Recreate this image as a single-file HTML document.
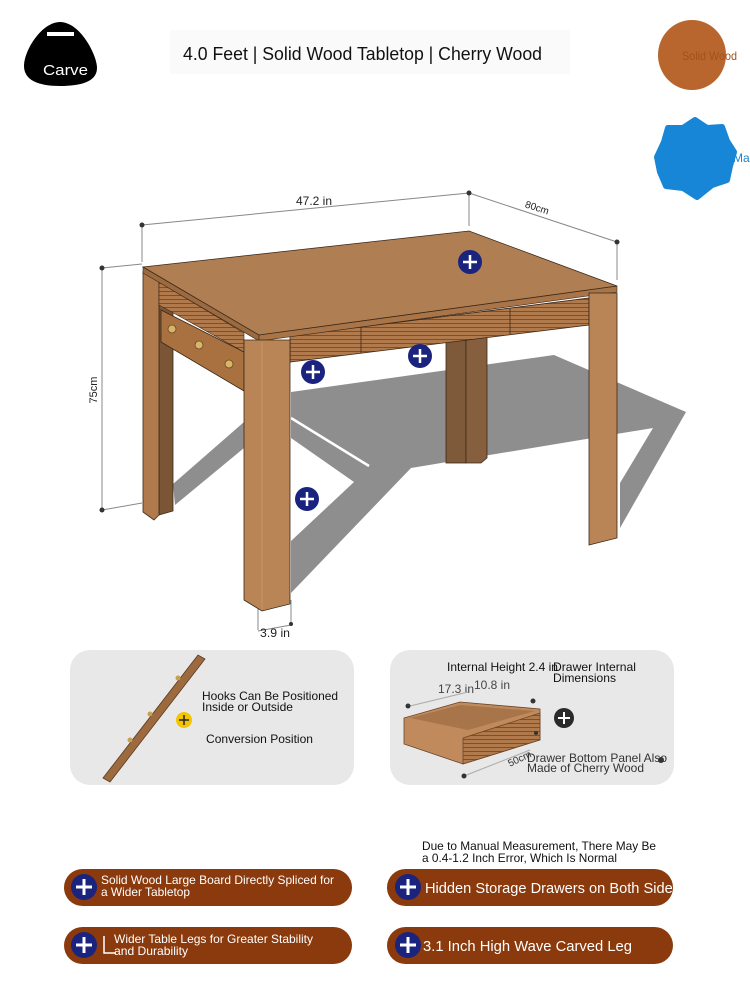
<!DOCTYPE html>
<html><head><meta charset="utf-8"><style>
html,body{margin:0;padding:0;background:#fff;}
svg{display:block;}
text{font-family:"Liberation Sans",sans-serif;}
</style></head><body>
<svg width="750" height="1000" viewBox="0 0 750 1000" xmlns="http://www.w3.org/2000/svg">
<defs>
<pattern id="rib" width="6" height="4" patternUnits="userSpaceOnUse">
<rect width="6" height="4" fill="#b07a4c"/><rect y="3" width="6" height="1" fill="#7a5030"/>
</pattern>
<clipPath id="pc"><rect x="387" y="869" width="286" height="37" rx="18.5"/></clipPath>
</defs>
<!-- header -->
<path d="M60,22 C80,22 97,55 97,68 C97,82 80,86 60,86 C38,86 24,80 24,66 C24,50 42,22 60,22Z" fill="#000"/>
<rect x="47" y="32" width="27" height="4" fill="#fff"/>
<text x="43" y="75" font-size="15" fill="#fff" textLength="45" lengthAdjust="spacingAndGlyphs">Carve</text>
<rect x="170" y="30" width="400" height="44" fill="#fafafa"/>
<text x="183" y="60" font-size="18" fill="#111" textLength="359" lengthAdjust="spacingAndGlyphs">4.0 Feet | Solid Wood Tabletop | Cherry Wood</text>
<ellipse cx="692" cy="55" rx="34" ry="35" fill="#b8662d"/>
<text x="682" y="60" font-size="12" fill="#a2521d" textLength="55" lengthAdjust="spacingAndGlyphs">Solid Wood</text>
<path d="M695,120 L707,128 L722,127 L727,141 L734,152 L730,166 L727,180 L712,185 L697,197 L683,188 L666,186 L660,172 L657,157 L664,142 L668,128 L683,128Z" fill="#1786d6" stroke="#1786d6" stroke-width="6" stroke-linejoin="round"/>
<text x="733" y="162" font-size="12" fill="#1786d6">Ma</text>

<!-- dimension lines -->
<g stroke="#888" stroke-width="1" fill="none">
<line x1="142" y1="225" x2="469" y2="193"/>
<line x1="469" y1="193" x2="617" y2="242"/>
<line x1="142" y1="225" x2="142" y2="262"/>
<line x1="469" y1="193" x2="469" y2="226"/>
<line x1="617" y1="242" x2="617" y2="280"/>
<line x1="102" y1="268" x2="102" y2="510"/>
<line x1="102" y1="268" x2="142" y2="264"/>
<line x1="102" y1="510" x2="142" y2="503"/>
<line x1="258" y1="600" x2="258" y2="630"/>
<line x1="291" y1="600" x2="291" y2="624"/>
<line x1="258" y1="631" x2="291" y2="625"/>
</g>
<g fill="#333">
<circle cx="142" cy="225" r="2.5"/><circle cx="469" cy="193" r="2.5"/><circle cx="617" cy="242" r="2.5"/>
<circle cx="102" cy="268" r="2.5"/><circle cx="102" cy="510" r="2.5"/><circle cx="291" cy="624" r="2"/>
</g>
<text x="296" y="205" font-size="12" fill="#222" textLength="36" lengthAdjust="spacingAndGlyphs">47.2 in</text>
<text x="537" y="211" font-size="10" text-anchor="middle" fill="#222" transform="rotate(18 537 208)">80cm</text>
<text x="97" y="390" font-size="11" text-anchor="middle" fill="#222" transform="rotate(-90 97 390)">75cm</text>
<text x="260" y="637" font-size="12" fill="#222" textLength="30" lengthAdjust="spacingAndGlyphs">3.9 in</text>

<!-- shadow -->
<polygon points="291,392 554,355 686,412 620,528 620,483 653,428 411,468 291,593 291,541 354,482 291,438" fill="#8e8e8e"/>
<line x1="291" y1="418" x2="369" y2="466" stroke="#fff" stroke-width="2.5"/>
<polygon points="244,422 244,448 175,505 173,484" fill="#8e8e8e"/>

<!-- back middle leg -->
<rect x="446" y="330" width="20" height="133" fill="#7e5a3a" stroke="#3a2818" stroke-width="0.8"/>
<polygon points="466,330 487,330 487,458 481,463 466,463" fill="#86603e" stroke="#3a2818" stroke-width="0.8"/>
<!-- left back leg -->
<polygon points="159,280 173,290 173,511 159,515" fill="#7a5637" stroke="#3a2818" stroke-width="0.8"/>
<polygon points="143,272 159,280 159,515 154,520 143,512" fill="#b07a4c" stroke="#3a2818" stroke-width="0.8"/>
<!-- hook rail -->
<polygon points="161,310 244,352 244,391 161,342" fill="#a8713f" stroke="#3a2818" stroke-width="0.8"/>
<g fill="#d8b56a" stroke="#6a4a20" stroke-width="0.8">
<circle cx="172" cy="329" r="4"/><circle cx="199" cy="345" r="4"/><circle cx="229" cy="364" r="4"/>
</g>
<!-- side apron -->
<polygon points="159,282 244,333 244,352 159,305" fill="url(#rib)" stroke="#3a2818" stroke-width="0.6"/>
<!-- front apron drawers -->
<polygon points="290,336 589,298 589,325 290,362" fill="url(#rib)" stroke="#3a2818" stroke-width="0.8"/>
<line x1="361" y1="327" x2="361" y2="353" stroke="#3a2818" stroke-width="0.8"/>
<line x1="510" y1="308" x2="510" y2="334" stroke="#3a2818" stroke-width="0.8"/>
<!-- tabletop -->
<polygon points="143,267 259,335 259,341 143,273" fill="#9c6a40" stroke="#3a2818" stroke-width="0.6"/>
<polygon points="259,335 617,286 617,292 259,341" fill="#a87448" stroke="#3a2818" stroke-width="0.6"/>
<polygon points="143,267 469,231 617,286 259,335" fill="#b07e53" stroke="#3a2818" stroke-width="0.8"/>
<!-- front-left leg -->
<polygon points="244,340 290,340 290,604 262,611 244,600" fill="#b98456" stroke="#3a2818" stroke-width="0.8"/>
<line x1="262" y1="342" x2="262" y2="610" stroke="#c9956a" stroke-width="1"/>
<!-- right leg -->
<polygon points="589,293 617,293 617,538 589,545" fill="#b98456" stroke="#3a2818" stroke-width="0.8"/>

<!-- plus markers -->
<g>
<circle cx="470" cy="262" r="12" fill="#1a237e"/><circle cx="313" cy="372" r="12" fill="#1a237e"/>
<circle cx="420" cy="356" r="12" fill="#1a237e"/><circle cx="307" cy="499" r="12" fill="#1a237e"/>
</g>
<g stroke="#fff" stroke-width="2.5">
<path d="M463,262h14M470,255v14"/><path d="M306,372h14M313,365v14"/>
<path d="M413,356h14M420,349v14"/><path d="M300,499h14M307,492v14"/>
</g>

<!-- lower panels -->
<rect x="70" y="650" width="284" height="135" rx="20" fill="#e8e8e8"/>
<rect x="390" y="650" width="284" height="135" rx="20" fill="#e8e8e8"/>
<polygon points="103,778 198,655 205,659 110,782" fill="#9c6a3e" stroke="#5a3a20" stroke-width="0.8"/>
<circle cx="178" cy="678" r="2.5" fill="#c9a050"/><circle cx="150" cy="714" r="2.5" fill="#c9a050"/><circle cx="130" cy="740" r="2.5" fill="#c9a050"/>
<text x="202" y="700" font-size="12" fill="#111" textLength="136" lengthAdjust="spacingAndGlyphs">Hooks Can Be Positioned</text>
<text x="202" y="711" font-size="12" fill="#111" textLength="91" lengthAdjust="spacingAndGlyphs">Inside or Outside</text>
<circle cx="184" cy="720" r="8" fill="#f2c500"/>
<path d="M179,720h10M184,715v10" stroke="#222" stroke-width="1.5"/>
<text x="206" y="743" font-size="12" fill="#111" textLength="107" lengthAdjust="spacingAndGlyphs">Conversion Position</text>

<text x="447" y="671" font-size="12" fill="#111" textLength="111" lengthAdjust="spacingAndGlyphs">Internal Height 2.4 in</text>
<text x="553" y="671" font-size="12" fill="#111" textLength="83" lengthAdjust="spacingAndGlyphs">Drawer Internal</text>
<text x="553" y="682" font-size="12" fill="#111" textLength="63" lengthAdjust="spacingAndGlyphs">Dimensions</text>
<text x="438" y="693" font-size="12" fill="#444" textLength="36" lengthAdjust="spacingAndGlyphs">17.3 in</text>
<text x="474" y="689" font-size="12" fill="#444" textLength="36" lengthAdjust="spacingAndGlyphs">10.8 in</text>
<line x1="410" y1="706" x2="468" y2="692" stroke="#aaa"/>
<circle cx="408" cy="706" r="2.5" fill="#333"/><circle cx="533" cy="701" r="2.5" fill="#333"/>
<polygon points="404,718 460,702 540,709 540,740 463,764 404,744" fill="#c08a5c" stroke="#6a4528" stroke-width="0.8"/>
<polygon points="410,718 460,705 535,711 468,730" fill="#a8754a"/>
<polygon points="463,738 540,713 540,740 463,764" fill="url(#rib)" stroke="#6a4528" stroke-width="0.8"/>
<line x1="464" y1="776" x2="530" y2="750" stroke="#aaa"/>
<circle cx="464" cy="776" r="2.5" fill="#333"/><circle cx="536" cy="733" r="2" fill="#333"/>
<text x="509" y="767" font-size="10" fill="#333" transform="rotate(-25 509 765)">50cm</text>
<circle cx="564" cy="718" r="10" fill="#2a2a2a"/>
<path d="M558,718h12M564,712v12" stroke="#fff" stroke-width="2"/>
<text x="527" y="762" font-size="12" fill="#333" textLength="140" lengthAdjust="spacingAndGlyphs">Drawer Bottom Panel Also</text>
<text x="527" y="772" font-size="12" fill="#333" textLength="117" lengthAdjust="spacingAndGlyphs">Made of Cherry Wood</text>
<circle cx="661" cy="760" r="3" fill="#333"/>

<!-- caption -->
<text x="422" y="850" font-size="12" fill="#111" textLength="234" lengthAdjust="spacingAndGlyphs">Due to Manual Measurement, There May Be</text>
<text x="422" y="862" font-size="12" fill="#111" textLength="195" lengthAdjust="spacingAndGlyphs">a 0.4-1.2 Inch Error, Which Is Normal</text>

<!-- pills -->
<g fill="#8a3a0c">
<rect x="64" y="869" width="288" height="37" rx="18.5"/>
<rect x="64" y="927" width="288" height="37" rx="18.5"/>
<rect x="387" y="869" width="286" height="37" rx="18.5"/>
<rect x="387" y="927" width="286" height="37" rx="18.5"/>
</g>
<g fill="#1a237e">
<circle cx="84" cy="887" r="13"/><circle cx="84" cy="945" r="13"/>
<circle cx="408" cy="887" r="13"/><circle cx="408" cy="945" r="13"/>
</g>
<g stroke="#fff" stroke-width="3">
<path d="M76,887h16M84,879v16"/><path d="M76,945h16M84,937v16"/>
<path d="M400,887h16M408,879v16"/><path d="M400,945h16M408,937v16"/>
</g>
<text x="101" y="884" font-size="12" fill="#fff" textLength="233" lengthAdjust="spacingAndGlyphs">Solid Wood Large Board Directly Spliced for</text>
<text x="101" y="896" font-size="12" fill="#fff" textLength="89" lengthAdjust="spacingAndGlyphs">a Wider Tabletop</text>
<text x="114" y="943" font-size="12" fill="#fff" textLength="199" lengthAdjust="spacingAndGlyphs">Wider Table Legs for Greater Stability</text>
<text x="114" y="955" font-size="12" fill="#fff" textLength="74" lengthAdjust="spacingAndGlyphs">and Durability</text>
<path d="M104,936v17h12" stroke="#fff" stroke-width="1.5" fill="none"/>
<text x="425" y="893" font-size="15" fill="#fff" clip-path="url(#pc)" textLength="255" lengthAdjust="spacingAndGlyphs">Hidden Storage Drawers on Both Sides</text>
<text x="423" y="951" font-size="15" fill="#fff" textLength="209" lengthAdjust="spacingAndGlyphs">3.1 Inch High Wave Carved Leg</text>
</svg>
</body></html>
